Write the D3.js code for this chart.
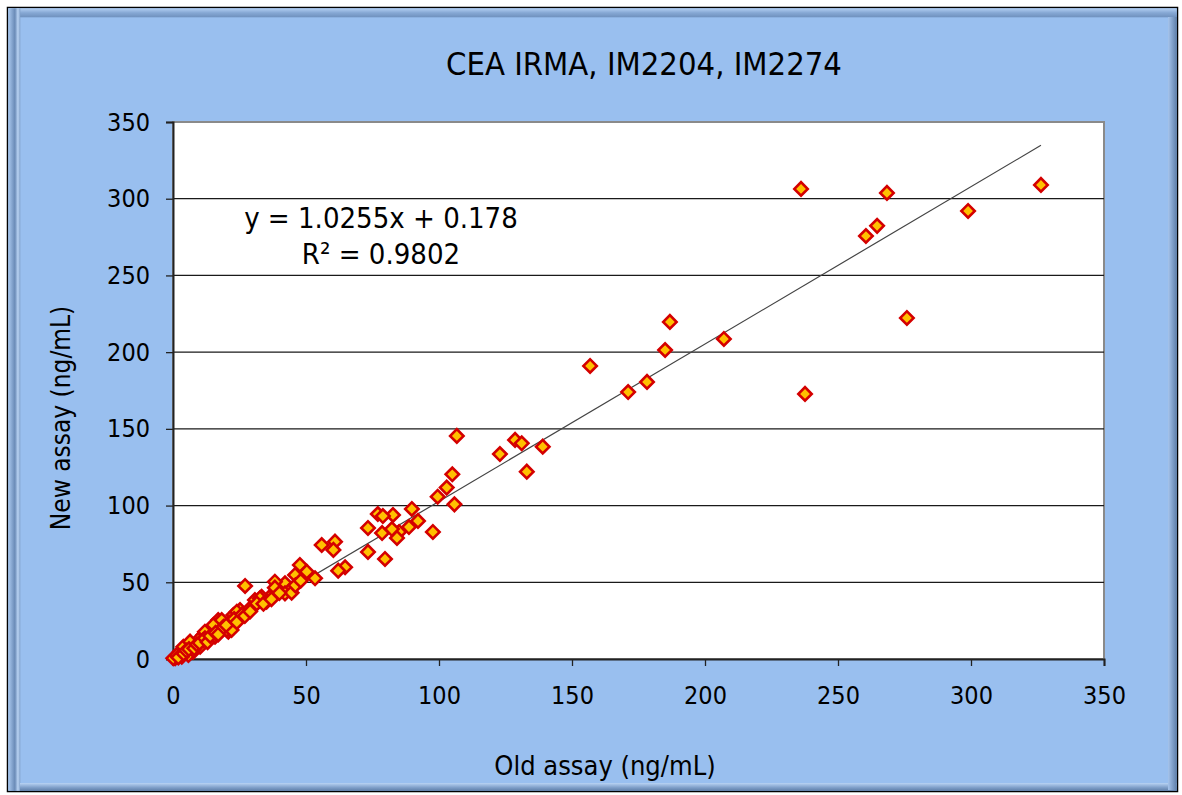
<!DOCTYPE html>
<html>
<head>
<meta charset="utf-8">
<script src="https://cdn.jsdelivr.net/npm/d3@7"></script>
<style>
  body { margin: 0; background: #fff; }
  svg text { font-family: "DejaVu Sans Condensed", "DejaVu Sans", sans-serif; font-stretch: condensed; fill: #000; }
</style>
</head>
<body>
<svg id="chart"></svg>
<script>
// old assay (x) vs new assay (y), ng/mL
var oldAssay = [236.1, 268.4, 326.3, 298.9, 260.5, 264.7, 275.9, 237.6, 156.8, 186.8, 185, 178.2, 171.1, 207.1,
  139, 133, 128.6, 131.1, 122.9, 106.7, 105, 102.9, 99.5, 105.8,
  97.7, 89.8, 92.1, 88.7, 85, 84.2, 82.7, 77, 78.9, 78.6, 79.7, 73.3, 82.3, 73.3,
  60.9, 60.3, 55.9, 64.7, 62.1, 53.4, 47.7, 50.3, 45.9, 42.1, 44, 42.1, 38.3, 38.3, 27.1,
  44.6, 36.2, 30.8, 33.3, 35.2, 32.7, 25.2, 22.7, 28.3, 21.4, 17, 14.5, 18.3, 20.8, 11.4, 9.5, 13.3,
  7, 4.5, 2.6, 0.8, 7.6, 10.2, 5.8, 3.3,
  3.9, 6.4, 12, 15.2, 18.3, 24, 29, 31.5, 0.1, 7.6, 11.4, 15.8, 20.2, 22,
  1.5, 2, 4, 5, 6, 8, 9, 10, 12, 13, 14, 16, 17, 19, 20, 23, 24, 26, 27, 29, 34, 37, 40, 46, 48];
var newAssay = [306.4, 303.8, 309, 292, 275.7, 282.3, 222.3, 172.8, 191, 219.7, 201.4, 180.6, 174, 208.6,
  138.4, 122.1, 142.8, 140.6, 133.6, 145.4, 120.4, 111.7, 105.8, 100.8,
  82.8, 97.8, 90, 86, 82.8, 78.9, 93.9, 94.5, 93.2, 82.1, 65.2, 85.4, 84.7, 69.8,
  76.5, 71.1, 74.3, 59.8, 57.6, 52.6, 61.3, 56.9, 54.8, 49.3, 45, 42.8, 50.4, 46.5, 47.6,
  43.2, 40.2, 38.5, 40.6, 37.4, 39.6, 31.9, 28.7, 30.8, 23.7, 25.4, 19.4, 18.9, 17.8, 15.6, 12.4, 12.4,
  9.1, 7, 4.8, 0.5, 4.8, 8, 2.6, 1.5,
  8.0, 11.3, 17.8, 22.2, 25.4, 30.8, 33, 36.2, 0.5, 5.9, 12.4, 14.5, 18.9, 18.9,
  2.5, 1, 3.5, 5.5, 6.5, 7, 9.5, 10.5, 13.5, 11, 15, 17, 16, 21, 22, 26, 24, 29, 28, 31, 36, 39, 43, 48, 51];

var tickValues = [0, 50, 100, 150, 200, 250, 300, 350];
var slope = 1.0255, intercept = 0.178;
var titleText = "CEA IRMA, IM2204, IM2274";
var eqLines = ["y = 1.0255x + 0.178", "R² = 0.9802"];
var xLabel = "Old assay (ng/mL)";
var yLabel = "New assay (ng/mL)";

var W = 1182, H = 795;
var plot = {left: 173, right: 1104, top: 122, bottom: 659};

var svg = d3.select("#chart").attr("width", W).attr("height", H);

// frame with bevel
svg.append("rect").attr("x", 0).attr("y", 0).attr("width", W).attr("height", H).attr("fill", "#fff");
svg.append("rect").attr("x", 7.5).attr("y", 7.5).attr("width", 1170).attr("height", 784)
  .attr("fill", "#99bfef").attr("stroke", "#000").attr("stroke-width", 1.5);

var defs = svg.append("defs");
var gl = defs.append("linearGradient").attr("id", "bevL").attr("x1", 0).attr("x2", 1).attr("y1", 0).attr("y2", 0);
gl.append("stop").attr("offset", "0%").attr("stop-color", "#a9c8ee");
gl.append("stop").attr("offset", "55%").attr("stop-color", "#6a8bb7");
gl.append("stop").attr("offset", "80%").attr("stop-color", "#b9d3f3");
gl.append("stop").attr("offset", "100%").attr("stop-color", "#7f9fc8");
var gt = defs.append("linearGradient").attr("id", "bevT").attr("x1", 0).attr("x2", 0).attr("y1", 0).attr("y2", 1);
gt.append("stop").attr("offset", "0%").attr("stop-color", "#b3cff2");
gt.append("stop").attr("offset", "50%").attr("stop-color", "#86a8d4");
gt.append("stop").attr("offset", "100%").attr("stop-color", "#6f90bd");
var gb = defs.append("linearGradient").attr("id", "bevB").attr("x1", 0).attr("x2", 0).attr("y1", 0).attr("y2", 1);
gb.append("stop").attr("offset", "0%").attr("stop-color", "#b8d3f4");
gb.append("stop").attr("offset", "60%").attr("stop-color", "#7d9dc7");
gb.append("stop").attr("offset", "100%").attr("stop-color", "#5f7fa9");
var gr = defs.append("linearGradient").attr("id", "bevR").attr("x1", 0).attr("x2", 1).attr("y1", 0).attr("y2", 0);
gr.append("stop").attr("offset", "0%").attr("stop-color", "#a6c4ec");
gr.append("stop").attr("offset", "60%").attr("stop-color", "#7a9ac4");
gr.append("stop").attr("offset", "100%").attr("stop-color", "#5f7fa9");

svg.append("rect").attr("x", 8.3).attr("y", 8.3).attr("width", 1168.5).attr("height", 9).attr("fill", "url(#bevT)");
svg.append("rect").attr("x", 8.3).attr("y", 8.3).attr("width", 12).attr("height", 782.5).attr("fill", "url(#bevL)");
svg.append("rect").attr("x", 20).attr("y", 783).attr("width", 1156.8).attr("height", 7.8).attr("fill", "url(#bevB)");
svg.append("rect").attr("x", 1168).attr("y", 17).attr("width", 8.8).attr("height", 773).attr("fill", "url(#bevR)");

var x = d3.scaleLinear().domain([0, 350]).range([plot.left, plot.right]);
var y = d3.scaleLinear().domain([0, 350]).range([plot.bottom, plot.top]);

// plot area
svg.append("rect").attr("x", plot.left).attr("y", plot.top)
  .attr("width", plot.right - plot.left).attr("height", plot.bottom - plot.top)
  .attr("fill", "#fff").attr("stroke", "#8a8a8a").attr("stroke-width", 2);

// gridlines
svg.append("g").selectAll("line").data(tickValues.filter(function(d) { return d > 0 && d < 350; }))
  .enter().append("line")
  .attr("x1", plot.left).attr("x2", plot.right)
  .attr("y1", function(d) { return y(d); }).attr("y2", function(d) { return y(d); })
  .attr("stroke", "#1a1a1a").attr("stroke-width", 1.3);

// axes
var xAxis = svg.append("g").attr("transform", "translate(0," + plot.bottom + ")")
  .call(d3.axisBottom(x).tickValues(tickValues).tickSizeOuter(0).tickSize(7).tickPadding(20));
var yAxis = svg.append("g").attr("transform", "translate(" + plot.left + ",0)")
  .call(d3.axisLeft(y).tickValues(tickValues).tickSizeOuter(0).tickSize(7).tickPadding(16));
[xAxis, yAxis].forEach(function(a) {
  a.select(".domain").attr("stroke", "#222").attr("stroke-width", 2);
  a.selectAll(".tick line").attr("stroke", "#222").attr("stroke-width", 1.3);
  a.selectAll(".tick text").attr("font-size", 25).attr("font-family", null).attr("fill", "#000");
});

// trendline
var xmax = d3.max(oldAssay);
svg.append("line")
  .attr("x1", x(0)).attr("y1", y(intercept))
  .attr("x2", x(xmax)).attr("y2", y(slope * xmax + intercept))
  .attr("stroke", "#444").attr("stroke-width", 1.2);

// markers
var pts = oldAssay.map(function(v, i) { return {x: v, y: newAssay[i]}; });
var diamond = d3.symbol().type(d3.symbolSquare).size(90);
svg.append("g").selectAll("path").data(pts).enter().append("path")
  .attr("d", diamond)
  .attr("transform", function(d) { return "translate(" + x(d.x) + "," + y(d.y) + ") rotate(45)"; })
  .attr("fill", "#ffc000").attr("stroke", "#d40000").attr("stroke-width", 2.6);

// texts
svg.append("text").attr("x", 644).attr("y", 75).attr("text-anchor", "middle")
  .attr("font-size", 32.5).text(titleText);
svg.selectAll(".eq").data(eqLines).enter().append("text").attr("class", "eq")
  .attr("x", 381).attr("y", function(d, i) { return 228 + i * 36; })
  .attr("text-anchor", "middle").attr("font-size", 29).text(function(d) { return d; });
svg.append("text").attr("x", 605).attr("y", 775).attr("text-anchor", "middle")
  .attr("font-size", 27).text(xLabel);
svg.append("text").attr("transform", "translate(70,418) rotate(-90)").attr("text-anchor", "middle")
  .attr("font-size", 26).text(yLabel);
</script>
</body>
</html>
